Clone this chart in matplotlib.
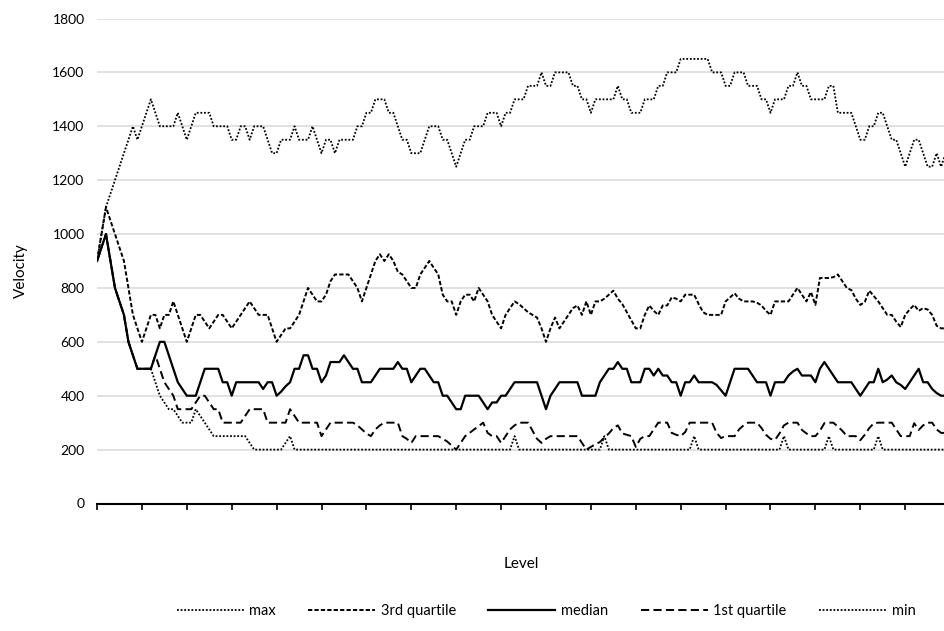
import numpy as np
import matplotlib.pyplot as plt

plt.rcParams['font.family'] = ['Lato', 'DejaVu Sans']

# values, one per level
max_v = [900, 1000, 1100, 1150, 1200, 1250, 1300, 1350, 1400, 1350,
         1400, 1450, 1500, 1450, 1400, 1400, 1400, 1400, 1450, 1400,
         1350, 1400, 1450, 1450, 1450, 1450, 1400, 1400, 1400, 1400,
         1350, 1350, 1400, 1400, 1350, 1400, 1400, 1400, 1350, 1300,
         1300, 1350, 1350, 1350, 1400, 1350, 1350, 1350, 1400, 1350,
         1300, 1350, 1350, 1300, 1350, 1350, 1350, 1350, 1400, 1400,
         1450, 1450, 1500, 1500, 1500, 1450, 1450, 1400, 1350, 1350,
         1300, 1300, 1300, 1350, 1400, 1400, 1400, 1350, 1350, 1300,
         1250, 1300, 1350, 1350, 1400, 1400, 1400, 1450, 1450, 1450,
         1400, 1450, 1450, 1500, 1500, 1500, 1550, 1550, 1550, 1600,
         1550, 1550, 1600, 1600, 1600, 1600, 1550, 1550, 1500, 1500,
         1450, 1500, 1500, 1500, 1500, 1500, 1550, 1500, 1500, 1450,
         1450, 1450, 1500, 1500, 1500, 1550, 1550, 1600, 1600, 1600,
         1650, 1650, 1650, 1650, 1650, 1650, 1650, 1600, 1600, 1600,
         1550, 1550, 1600, 1600, 1600, 1550, 1550, 1550, 1500, 1500,
         1450, 1500, 1500, 1500, 1550, 1550, 1600, 1550, 1550, 1500,
         1500, 1500, 1500, 1550, 1550, 1450, 1450, 1450, 1450, 1400,
         1350, 1350, 1400, 1400, 1450, 1450, 1400, 1350, 1350, 1300,
         1250, 1300, 1350, 1350, 1300, 1250, 1250, 1300, 1250, 1300]

q3_v = [900, 1000, 1100, 1050, 1000, 950, 900, 800, 700, 650,
        600, 650, 700, 700, 650, 700, 700, 750, 700, 650,
        600, 650, 700, 700, 675, 650, 675, 700, 700, 675,
        650, 675, 700, 725, 750, 725, 700, 700, 700, 650,
        600, 625, 650, 650, 675, 700, 750, 800, 775, 750,
        750, 775, 825, 850, 850, 850, 850, 825, 800, 750,
        800, 850, 900, 925, 900, 925, 900, 860, 850, 825,
        800, 800, 850, 875, 900, 875, 850, 775, 750, 750,
        700, 750, 775, 775, 750, 800, 775, 750, 700, 675,
        650, 700, 725, 750, 740, 725, 710, 700, 690, 650,
        600, 650, 690, 650, 675, 700, 725, 735, 700, 750,
        700, 750, 750, 760, 775, 790, 760, 740, 710, 680,
        650, 650, 700, 735, 715, 700, 735, 735, 765, 760,
        750, 775, 775, 775, 740, 710, 700, 700, 700, 700,
        750, 765, 780, 760, 750, 750, 750, 745, 735, 715,
        700, 750, 750, 750, 750, 775, 800, 775, 750, 785,
        737, 837, 837, 837, 840, 850, 825, 800, 792, 760,
        737, 748, 790, 770, 750, 725, 700, 700, 675, 655,
        700, 720, 737, 715, 725, 720, 700, 660, 650, 650]

median_v = [900, 950, 1000, 900, 800, 750, 700, 600, 550, 500,
            500, 500, 500, 550, 600, 600, 550, 500, 450, 425,
            400, 400, 400, 450, 500, 500, 500, 500, 450, 450,
            400, 450, 450, 450, 450, 450, 450, 425, 450, 450,
            400, 415, 435, 450, 500, 500, 550, 550, 500, 500,
            450, 475, 525, 525, 525, 550, 525, 500, 500, 450,
            450, 450, 475, 500, 500, 500, 500, 525, 500, 500,
            450, 475, 500, 500, 475, 450, 450, 400, 400, 375,
            350, 350, 400, 400, 400, 400, 375, 350, 375, 375,
            400, 400, 425, 450, 450, 450, 450, 450, 450, 400,
            350, 400, 425, 450, 450, 450, 450, 450, 400, 400,
            400, 400, 450, 475, 500, 500, 525, 500, 500, 450,
            450, 450, 500, 500, 475, 500, 475, 475, 450, 450,
            400, 450, 450, 475, 450, 450, 450, 450, 440, 420,
            400, 450, 500, 500, 500, 500, 475, 450, 450, 450,
            400, 450, 450, 450, 475, 490, 500, 475, 475, 475,
            450, 500, 525, 500, 475, 450, 450, 450, 450, 425,
            400, 425, 450, 450, 500, 450, 460, 475, 450, 440,
            425, 450, 475, 500, 450, 450, 425, 410, 400, 400]

q1_v = [900, 950, 1000, 900, 800, 750, 700, 600, 550, 500,
        500, 500, 500, 550, 500, 450, 425, 400, 350, 350,
        350, 350, 375, 400, 400, 375, 350, 350, 300, 300,
        300, 300, 300, 325, 350, 350, 350, 350, 300, 300,
        300, 300, 300, 350, 325, 300, 300, 300, 300, 300,
        250, 275, 300, 300, 300, 300, 300, 300, 290, 275,
        260, 250, 275, 290, 300, 300, 300, 300, 250, 240,
        225, 250, 250, 250, 250, 250, 250, 240, 230, 215,
        200, 225, 250, 262, 275, 287, 300, 262, 250, 250,
        225, 250, 275, 290, 300, 300, 300, 270, 240, 225,
        240, 250, 250, 250, 250, 250, 250, 250, 225, 200,
        210, 220, 228, 245, 260, 280, 290, 260, 255, 250,
        210, 240, 250, 250, 275, 300, 300, 300, 262, 255,
        250, 265, 300, 300, 300, 300, 300, 300, 262, 243,
        250, 250, 250, 275, 290, 300, 300, 300, 280, 255,
        240, 236, 260, 290, 300, 300, 300, 273, 260, 250,
        250, 270, 298, 300, 300, 285, 270, 250, 250, 250,
        235, 255, 280, 298, 300, 300, 300, 300, 275, 250,
        250, 250, 298, 273, 290, 300, 300, 275, 262, 262]

min_v = [900, 950, 1000, 900, 800, 750, 700, 600, 550, 500,
         500, 500, 500, 450, 400, 375, 350, 350, 325, 300,
         300, 300, 350, 325, 300, 275, 250, 250, 250, 250,
         250, 250, 250, 250, 225, 200, 200, 200, 200, 200,
         200, 200, 225, 250, 200, 200, 200, 200, 200, 200,
         200, 200, 200, 200, 200, 200, 200, 200, 200, 200,
         200, 200, 200, 200, 200, 200, 200, 200, 200, 200,
         200, 200, 200, 200, 200, 200, 200, 200, 200, 200,
         200, 200, 200, 200, 200, 200, 200, 200, 200, 200,
         200, 200, 200, 250, 200, 200, 200, 200, 200, 200,
         200, 200, 200, 200, 200, 200, 200, 200, 200, 200,
         200, 200, 200, 250, 200, 200, 200, 200, 200, 200,
         200, 200, 200, 200, 200, 200, 200, 200, 200, 200,
         200, 200, 200, 250, 200, 200, 200, 200, 200, 200,
         200, 200, 200, 200, 200, 200, 200, 200, 200, 200,
         200, 200, 200, 250, 200, 200, 200, 200, 200, 200,
         200, 200, 200, 250, 200, 200, 200, 200, 200, 200,
         200, 200, 200, 200, 250, 200, 200, 200, 200, 200,
         200, 200, 200, 200, 200, 200, 200, 200, 200, 200]

series_names = ['max', '3rd quartile', 'median', '1st quartile', 'min']
y_ticks = [0, 200, 400, 600, 800, 1000, 1200, 1400, 1600, 1800]

levels = np.arange(len(median_v))

fig = plt.figure(figsize=(9.45, 6.31), dpi=100)
ax = fig.add_axes([97 / 945, 1 - 503.5 / 631, 848 / 945, 485 / 631])

lw = 1.4
ax.plot(levels, max_v, color='black', lw=1.3, linestyle=(0, (1, 1)), label=series_names[0])
ax.plot(levels, q3_v, color='black', lw=lw, linestyle=(0, (2.2, 1.1)), label=series_names[1])
ax.plot(levels, median_v, color='black', lw=1.6, label=series_names[2])
ax.plot(levels, q1_v, color='black', lw=lw, linestyle=(0, (4.2, 2.2)), label=series_names[3])
ax.plot(levels, min_v, color='black', lw=1.3, linestyle=(0, (1, 1)), label=series_names[4])

ax.set_xlim(0, 848 / 4.49)
ax.set_ylim(0, 1800)
ax.set_yticks(y_ticks)
ax.set_xticks(np.arange(0, 190, 10))
ax.set_xticklabels([])
ax.tick_params(axis='y', length=0, labelsize=10, pad=9)
ax.tick_params(axis='x', direction='out', length=4, width=1.2, color='black')
ax.grid(axis='y', color='#d9d9d9', lw=1.1)
ax.set_axisbelow(True)
for side in ['top', 'right', 'left']:
    ax.spines[side].set_visible(False)
ax.spines['bottom'].set_linewidth(1.5)
ax.spines['bottom'].set_color('black')

ax.set_xlabel('Level', fontsize=11)
ax.xaxis.set_label_coords(0.5, -0.11)
ax.set_ylabel('Velocity', fontsize=11)
ax.yaxis.set_label_coords(-0.082, 0.48)

fig.legend(loc='center', bbox_to_anchor=(546 / 945, 1 - 611 / 631), ncol=5,
           frameon=False, fontsize=10.5, handlelength=4.6, handletextpad=0.4,
           columnspacing=2.2)

fig.savefig('out.png', dpi=100)
